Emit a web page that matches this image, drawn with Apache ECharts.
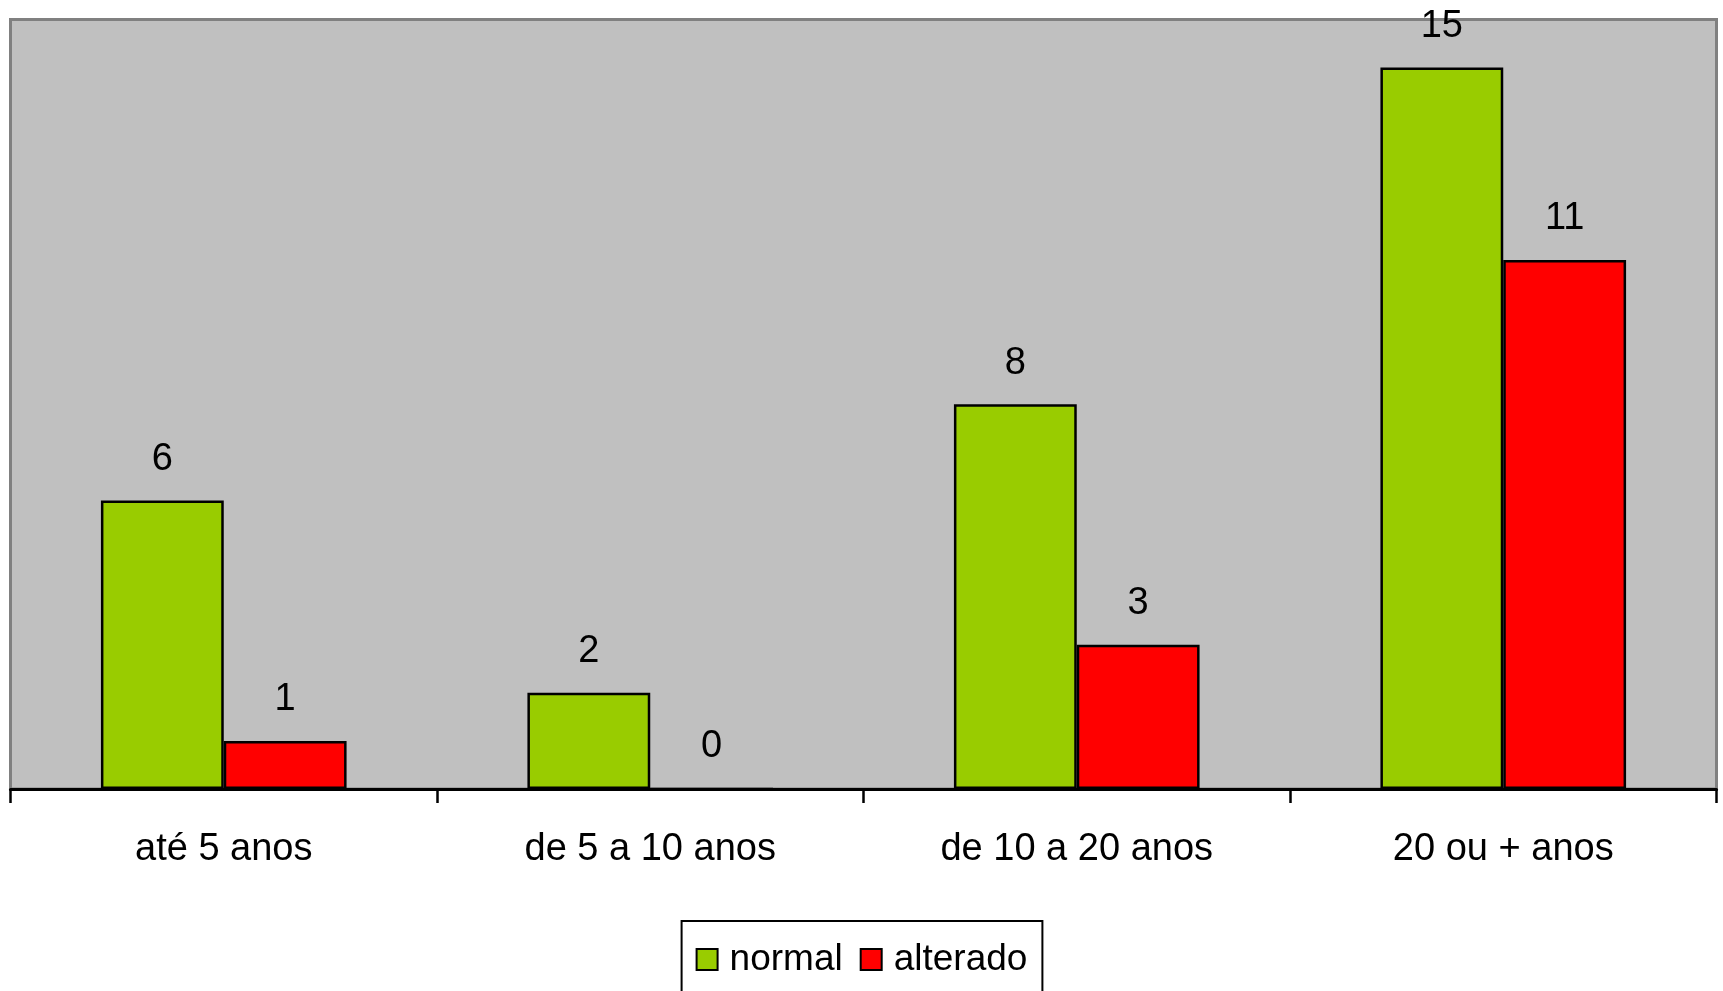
<!DOCTYPE html>
<html>
<head>
<meta charset="utf-8">
<script src="https://cdn.jsdelivr.net/npm/echarts@6/dist/echarts.min.js"></script>
<style>
  html, body { margin: 0; padding: 0; background: #ffffff; }
  #chart { width: 1723px; height: 991px; }
</style>
</head>
<body>
<div id="chart"></div>
<script>
// Age groups and counts per result
const categories = ['até 5 anos', 'de 5 a 10 anos', 'de 10 a 20 anos', '20 ou + anos'];
const normalValues = [6, 2, 8, 15];
const alteradoValues = [1, 0, 3, 11];
const seriesNames = ['normal', 'alterado'];

const FONT = '"Liberation Sans", Arial, sans-serif';

const chart = echarts.init(document.getElementById('chart'), null, { renderer: 'canvas' });

const labelStyle = {
  show: true,
  position: 'top',
  distance: 22,
  color: '#000000',
  fontFamily: FONT,
  fontSize: 38
};

chart.setOption({
  animation: false,
  backgroundColor: '#ffffff',
  textStyle: { fontFamily: FONT },
  grid: {
    left: 10.5,
    right: 6.5,
    top: 19.5,
    bottom: 202,
    show: true,
    backgroundColor: '#C0C0C0',
    borderColor: '#808080',
    borderWidth: 3
  },
  legend: {
    data: seriesNames,
    left: 'center',
    top: 921,
    padding: [20, 15, 40, 14],
    borderColor: '#000000',
    borderWidth: 2,
    backgroundColor: '#ffffff',
    itemWidth: 21,
    itemHeight: 21,
    itemGap: 17,
    icon: 'rect',
    textStyle: { color: '#000000', fontFamily: FONT, fontSize: 37, padding: [0, 0, 0, 7] }
  },
  xAxis: {
    type: 'category',
    data: categories,
    boundaryGap: true,
    z: 5,
    axisLine: { show: true, lineStyle: { color: '#000000', width: 3 } },
    axisTick: { show: true, length: 14, interval: 0, lineStyle: { color: '#000000', width: 2.5 } },
    axisLabel: { interval: 0, margin: 42, color: '#000000', fontFamily: FONT, fontSize: 38 },
    splitLine: { show: false }
  },
  yAxis: {
    type: 'value',
    min: 0,
    max: 16,
    show: false,
    splitLine: { show: false }
  },
  series: [
    {
      name: seriesNames[0],
      type: 'bar',
      data: normalValues,
      barWidth: '28.8%',
      barGap: '0%',
      itemStyle: { color: '#99CC00', borderColor: '#000000', borderWidth: 2.5 },
      label: labelStyle
    },
    {
      name: seriesNames[1],
      type: 'bar',
      data: alteradoValues,
      barWidth: '28.8%',
      barGap: '0%',
      itemStyle: { color: '#FF0000', borderColor: '#000000', borderWidth: 2.5 },
      label: labelStyle
    }
  ]
});
</script>
</body>
</html>
